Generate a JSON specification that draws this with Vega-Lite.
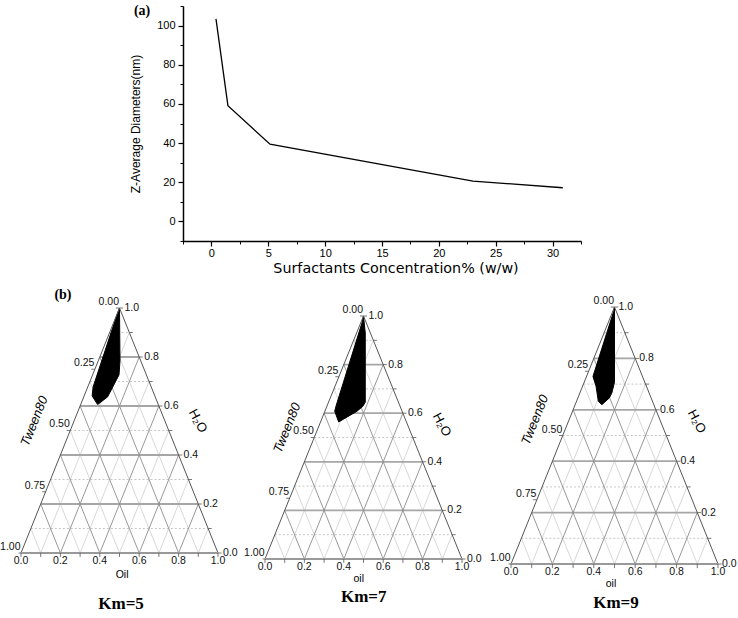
{
"$schema": "https://vega.github.io/schema/vega-lite/v6.json",
"padding": {"left": 0, "top": 3, "right": 0, "bottom": 0},
"background": "white",
"config": {"view": {"stroke": null}},
"spacing": 7,
"datasets": {
"size": [{"c":0.4,"d":103.4},{"c":1.45,"d":59.1},{"c":5.15,"d":39.4},{"c":23.0,"d":20.6},{"c":30.9,"d":17.2}],
"grid": [
{"x":0.05,"y":0.1,"x2":0.95,"y2":0.1,"f":"H","m":0},
{"x":0.1,"y":0.2,"x2":0.9,"y2":0.2,"f":"H","m":1},
{"x":0.15,"y":0.3,"x2":0.85,"y2":0.3,"f":"H","m":0},
{"x":0.2,"y":0.4,"x2":0.8,"y2":0.4,"f":"H","m":1},
{"x":0.25,"y":0.5,"x2":0.75,"y2":0.5,"f":"H","m":0},
{"x":0.3,"y":0.6,"x2":0.7,"y2":0.6,"f":"H","m":1},
{"x":0.35,"y":0.7,"x2":0.65,"y2":0.7,"f":"H","m":0},
{"x":0.4,"y":0.8,"x2":0.6,"y2":0.8,"f":"H","m":1},
{"x":0.45,"y":0.9,"x2":0.55,"y2":0.9,"f":"H","m":0},
{"x":0.1,"y":0,"x2":0.55,"y2":0.9,"f":"B","m":0},
{"x":0.2,"y":0,"x2":0.6,"y2":0.8,"f":"B","m":1},
{"x":0.3,"y":0,"x2":0.65,"y2":0.7,"f":"B","m":0},
{"x":0.4,"y":0,"x2":0.7,"y2":0.6,"f":"B","m":1},
{"x":0.5,"y":0,"x2":0.75,"y2":0.5,"f":"B","m":0},
{"x":0.6,"y":0,"x2":0.8,"y2":0.4,"f":"B","m":1},
{"x":0.7,"y":0,"x2":0.85,"y2":0.3,"f":"B","m":0},
{"x":0.8,"y":0,"x2":0.9,"y2":0.2,"f":"B","m":1},
{"x":0.9,"y":0,"x2":0.95,"y2":0.1,"f":"B","m":0},
{"x":0.1,"y":0,"x2":0.05,"y2":0.1,"f":"C","m":0},
{"x":0.2,"y":0,"x2":0.1,"y2":0.2,"f":"C","m":1},
{"x":0.3,"y":0,"x2":0.15,"y2":0.3,"f":"C","m":0},
{"x":0.4,"y":0,"x2":0.2,"y2":0.4,"f":"C","m":1},
{"x":0.5,"y":0,"x2":0.25,"y2":0.5,"f":"C","m":0},
{"x":0.6,"y":0,"x2":0.3,"y2":0.6,"f":"C","m":1},
{"x":0.7,"y":0,"x2":0.35,"y2":0.7,"f":"C","m":0},
{"x":0.8,"y":0,"x2":0.4,"y2":0.8,"f":"C","m":1},
{"x":0.9,"y":0,"x2":0.45,"y2":0.9,"f":"C","m":0}
],
"edge": [
{"x":0,"y":0,"x2":0.5,"y2":1,"k":"s"},
{"x":1,"y":0,"x2":0.5,"y2":1,"k":"s"},
{"x":0,"y":0,"x2":1,"y2":0,"k":"b"}
],
"ticks": [
{"x":0,"y":0,"x2":0,"y2":-0.016},{"x":0.1,"y":0,"x2":0.1,"y2":-0.016},{"x":0.2,"y":0,"x2":0.2,"y2":-0.016},{"x":0.3,"y":0,"x2":0.3,"y2":-0.016},{"x":0.4,"y":0,"x2":0.4,"y2":-0.016},{"x":0.5,"y":0,"x2":0.5,"y2":-0.016},{"x":0.6,"y":0,"x2":0.6,"y2":-0.016},{"x":0.7,"y":0,"x2":0.7,"y2":-0.016},{"x":0.8,"y":0,"x2":0.8,"y2":-0.016},{"x":0.9,"y":0,"x2":0.9,"y2":-0.016},{"x":1,"y":0,"x2":1,"y2":-0.016},
{"x":1,"y":0,"x2":1.018,"y2":0},{"x":0.95,"y":0.1,"x2":0.968,"y2":0.1},{"x":0.9,"y":0.2,"x2":0.918,"y2":0.2},{"x":0.85,"y":0.3,"x2":0.868,"y2":0.3},{"x":0.8,"y":0.4,"x2":0.818,"y2":0.4},{"x":0.75,"y":0.5,"x2":0.768,"y2":0.5},{"x":0.7,"y":0.6,"x2":0.718,"y2":0.6},{"x":0.65,"y":0.7,"x2":0.668,"y2":0.7},{"x":0.6,"y":0.8,"x2":0.618,"y2":0.8},{"x":0.55,"y":0.9,"x2":0.568,"y2":0.9},{"x":0.5,"y":1,"x2":0.518,"y2":1},
{"x":0.5,"y":1,"x2":0.482,"y2":1},{"x":0.375,"y":0.75,"x2":0.357,"y2":0.75},{"x":0.25,"y":0.5,"x2":0.232,"y2":0.5},{"x":0.125,"y":0.25,"x2":0.107,"y2":0.25},{"x":0,"y":0,"x2":-0.012,"y2":0}
],
"bl": [{"x":0,"y":0,"t":"0.0"},{"x":0.2,"y":0,"t":"0.2"},{"x":0.4,"y":0,"t":"0.4"},{"x":0.6,"y":0,"t":"0.6"},{"x":0.8,"y":0,"t":"0.8"},{"x":1,"y":0,"t":"1.0"}],
"rl": [{"x":1,"y":0,"t":"0.0"},{"x":0.9,"y":0.2,"t":"0.2"},{"x":0.8,"y":0.4,"t":"0.4"},{"x":0.7,"y":0.6,"t":"0.6"},{"x":0.6,"y":0.8,"t":"0.8"},{"x":0.5,"y":1,"t":"1.0"}],
"ll": [{"x":0.5,"y":1,"t":"0.00"},{"x":0.375,"y":0.75,"t":"0.25"},{"x":0.25,"y":0.5,"t":"0.50"},{"x":0.125,"y":0.25,"t":"0.75"},{"x":0,"y":0,"t":"1.00"}],
"p5": [{"i":1,"x":0.5,"y":1},{"i":2,"x":0.5025,"y":0.784},{"i":3,"x":0.4975,"y":0.727},{"i":4,"x":0.4394,"y":0.637},{"i":5,"x":0.3889,"y":0.606},{"i":6,"x":0.3611,"y":0.641},{"i":7,"x":0.3662,"y":0.678},{"i":8,"x":0.4848,"y":0.967}],
"p7": [{"i":1,"x":0.5,"y":1},{"i":2,"x":0.509,"y":0.93},{"i":3,"x":0.509,"y":0.645},{"i":4,"x":0.496,"y":0.628},{"i":5,"x":0.467,"y":0.608},{"i":6,"x":0.374,"y":0.564},{"i":7,"x":0.354,"y":0.608},{"i":8,"x":0.36,"y":0.628},{"i":9,"x":0.492,"y":0.971}],
"p9": [{"i":1,"x":0.5,"y":1},{"i":2,"x":0.5,"y":0.707},{"i":3,"x":0.487,"y":0.665},{"i":4,"x":0.475,"y":0.646},{"i":5,"x":0.439,"y":0.62},{"i":6,"x":0.422,"y":0.633},{"i":7,"x":0.411,"y":0.691},{"i":8,"x":0.396,"y":0.73},{"i":9,"x":0.496,"y":0.983}]
},
"vconcat": [
{
"spacing": 0,
"hconcat": [
{"width": 128, "height": 10, "data": {"values": []}, "mark": "point", "encoding": {}},
{
"width": 398, "height": 235,
"layer": [
{"data": {"name": "size"}, "mark": {"type": "line", "color": "black", "strokeWidth": 1.3},
 "encoding": {
  "x": {"field": "c", "type": "quantitative", "scale": {"domain": [-2.5, 32.5], "nice": false, "zero": false},
   "axis": {"orient": "bottom", "values": [0,5,10,15,20,25,30], "format": "d", "title": "Surfactants Concentration% (w/w)", "grid": false, "domainColor": "black", "domainWidth": 1.5, "tickColor": "black", "tickWidth": 1.2, "tickSize": 5, "labelFont": "Liberation Sans", "labelFontSize": 11, "labelColor": "black", "labelPadding": 1, "titleFont": "DejaVu Sans", "titleFontSize": 14.3, "titleFontWeight": "normal", "titleColor": "black", "titlePadding": 3, "titleX": 212.5}},
  "y": {"field": "d", "type": "quantitative", "scale": {"domain": [-10, 110], "nice": false, "zero": false},
   "axis": {"orient": "left", "values": [0,20,40,60,80,100], "format": "d", "title": "Z-Average Diameters(nm)", "grid": false, "domainColor": "black", "domainWidth": 1.5, "tickColor": "black", "tickWidth": 1.2, "tickSize": 5, "labelFont": "Liberation Sans", "labelFontSize": 11, "labelColor": "black", "labelPadding": 3, "titleFont": "Liberation Sans", "titleFontSize": 12, "titleFontWeight": "normal", "titleColor": "black", "titlePadding": 14}}
 }},
{"data": {"name": "size"}, "mark": {"type": "line", "opacity": 0},
 "encoding": {
  "x": {"field": "c", "type": "quantitative", "axis": {"orient": "bottom", "values": [-2.5,2.5,7.5,12.5,17.5,22.5,27.5,32.5], "labels": false, "title": null, "domain": false, "grid": false, "tickColor": "black", "tickSize": 3, "tickWidth": 1}},
  "y": {"field": "d", "type": "quantitative", "axis": {"orient": "left", "values": [-10,10,30,50,70,90,110], "labels": false, "title": null, "domain": false, "grid": false, "tickColor": "black", "tickSize": 3, "tickWidth": 1}}
 }},
{"data": {"values": [{"c": -6.1, "d": 107.6, "t": "(a)"}]}, "mark": {"type": "text", "font": "Liberation Serif", "fontWeight": "bold", "fontSize": 14, "color": "black", "clip": false},
 "encoding": {"x": {"field": "c", "type": "quantitative", "axis": null}, "y": {"field": "d", "type": "quantitative", "axis": null}, "text": {"field": "t"}}}
],
"resolve": {"axis": {"x": "independent", "y": "independent"}}
}
]
},
{
"spacing": 0,
"hconcat": [
{
"width": 243, "height": 333,
"encoding": {
 "x": {"field": "x", "type": "quantitative", "scale": {"domain": [-0.1015, 1.132], "nice": false, "zero": false}, "axis": null},
 "y": {"field": "y", "type": "quantitative", "scale": {"domain": [-0.2571, 1.102], "nice": false, "zero": false}, "axis": null}
},
"layer": [
{"data": {"name": "grid"}, "transform": [{"filter": "datum.f=='H' && datum.m==0"}], "mark": {"type": "rule", "color": "#c6c6c6", "strokeWidth": 1, "strokeDash": [2,2]}, "encoding": {"x2": {"field": "x2"}, "y2": {"field": "y2"}}},
{"data": {"name": "grid"}, "transform": [{"filter": "datum.f!='H' && datum.m==0"}], "mark": {"type": "rule", "color": "#cdcdcd", "strokeWidth": 0.8}, "encoding": {"x2": {"field": "x2"}, "y2": {"field": "y2"}}},
{"data": {"name": "grid"}, "transform": [{"filter": "datum.f=='H' && datum.m==1"}], "mark": {"type": "rule", "color": "#a6a6a6", "strokeWidth": 1.8}, "encoding": {"x2": {"field": "x2"}, "y2": {"field": "y2"}}},
{"data": {"name": "grid"}, "transform": [{"filter": "datum.f!='H' && datum.m==1"}], "mark": {"type": "rule", "color": "#8c8c8c", "strokeWidth": 0.9}, "encoding": {"x2": {"field": "x2"}, "y2": {"field": "y2"}}},
{"data": {"name": "p5"}, "mark": {"type": "line", "interpolate": "linear-closed", "fill": "black", "stroke": "black", "strokeWidth": 1}, "encoding": {"order": {"field": "i", "type": "quantitative"}}},
{"data": {"name": "edge"}, "transform": [{"filter": "datum.k=='s'"}], "mark": {"type": "rule", "color": "#555555", "strokeWidth": 1}, "encoding": {"x2": {"field": "x2"}, "y2": {"field": "y2"}}},
{"data": {"name": "edge"}, "transform": [{"filter": "datum.k=='b'"}], "mark": {"type": "rule", "color": "#999999", "strokeWidth": 2.2}, "encoding": {"x2": {"field": "x2"}, "y2": {"field": "y2"}}},
{"data": {"name": "ticks"}, "mark": {"type": "rule", "color": "#555555", "strokeWidth": 0.8}, "encoding": {"x2": {"field": "x2"}, "y2": {"field": "y2"}}},
{"data": {"name": "bl"}, "mark": {"type": "text", "font": "Liberation Sans", "fontSize": 10.5, "align": "center", "baseline": "top", "dy": 3, "color": "#111111"}, "encoding": {"text": {"field": "t"}}},
{"data": {"name": "rl"}, "mark": {"type": "text", "font": "Liberation Sans", "fontSize": 10.5, "align": "left", "baseline": "middle", "dx": 5, "color": "#111111"}, "encoding": {"text": {"field": "t"}}},
{"data": {"name": "ll"}, "mark": {"type": "text", "font": "Liberation Sans", "fontSize": 10.5, "align": "right", "baseline": "bottom", "dx": -0.5, "dy": -1, "color": "#111111"}, "encoding": {"text": {"field": "t"}}},
{"data": {"values": [{"x": 0.068, "y": 0.538, "t": "Tween80"}]}, "mark": {"type": "text", "font": "Liberation Sans", "fontStyle": "italic", "fontSize": 13, "angle": -68, "align": "center", "baseline": "middle", "color": "black"}, "encoding": {"text": {"field": "t"}}},
{"data": {"values": [{"x": 0.898, "y": 0.539, "t": "H₂O"}]}, "mark": {"type": "text", "font": "Liberation Sans", "fontSize": 13, "angle": 62, "align": "center", "baseline": "middle", "color": "black"}, "encoding": {"text": {"field": "t"}}},
{"data": {"values": [{"x": 0.513, "y": -0.088, "t": "Oil"}]}, "mark": {"type": "text", "font": "Liberation Sans", "fontSize": 10.5, "align": "center", "baseline": "middle", "color": "black"}, "encoding": {"text": {"field": "t"}}},
{"data": {"values": [{"x": 0.508, "y": -0.208, "t": "Km=5"}]}, "mark": {"type": "text", "font": "Liberation Serif", "fontWeight": "bold", "fontSize": 17, "align": "center", "baseline": "middle", "color": "black"}, "encoding": {"text": {"field": "t"}}},
{"data": {"values": [{"x": 0.213, "y": 1.053, "t": "(b)"}]}, "mark": {"type": "text", "font": "Liberation Serif", "fontWeight": "bold", "fontSize": 14, "align": "center", "baseline": "middle", "color": "black"}, "encoding": {"text": {"field": "t"}}}
]
},
{
"width": 243, "height": 333,
"encoding": {
 "x": {"field": "x", "type": "quantitative", "scale": {"domain": [-0.1015, 1.132], "nice": false, "zero": false}, "axis": null},
 "y": {"field": "y", "type": "quantitative", "scale": {"domain": [-0.2346, 1.1358], "nice": false, "zero": false}, "axis": null}
},
"layer": [
{"data": {"name": "grid"}, "transform": [{"filter": "datum.f=='H' && datum.m==0"}], "mark": {"type": "rule", "color": "#c6c6c6", "strokeWidth": 1, "strokeDash": [2,2]}, "encoding": {"x2": {"field": "x2"}, "y2": {"field": "y2"}}},
{"data": {"name": "grid"}, "transform": [{"filter": "datum.f!='H' && datum.m==0"}], "mark": {"type": "rule", "color": "#cdcdcd", "strokeWidth": 0.8}, "encoding": {"x2": {"field": "x2"}, "y2": {"field": "y2"}}},
{"data": {"name": "grid"}, "transform": [{"filter": "datum.f=='H' && datum.m==1"}], "mark": {"type": "rule", "color": "#a6a6a6", "strokeWidth": 1.8}, "encoding": {"x2": {"field": "x2"}, "y2": {"field": "y2"}}},
{"data": {"name": "grid"}, "transform": [{"filter": "datum.f!='H' && datum.m==1"}], "mark": {"type": "rule", "color": "#8c8c8c", "strokeWidth": 0.9}, "encoding": {"x2": {"field": "x2"}, "y2": {"field": "y2"}}},
{"data": {"name": "p7"}, "mark": {"type": "line", "interpolate": "linear-closed", "fill": "black", "stroke": "black", "strokeWidth": 1}, "encoding": {"order": {"field": "i", "type": "quantitative"}}},
{"data": {"name": "edge"}, "transform": [{"filter": "datum.k=='s'"}], "mark": {"type": "rule", "color": "#555555", "strokeWidth": 1}, "encoding": {"x2": {"field": "x2"}, "y2": {"field": "y2"}}},
{"data": {"name": "edge"}, "transform": [{"filter": "datum.k=='b'"}], "mark": {"type": "rule", "color": "#999999", "strokeWidth": 2.2}, "encoding": {"x2": {"field": "x2"}, "y2": {"field": "y2"}}},
{"data": {"name": "ticks"}, "mark": {"type": "rule", "color": "#555555", "strokeWidth": 0.8}, "encoding": {"x2": {"field": "x2"}, "y2": {"field": "y2"}}},
{"data": {"name": "bl"}, "mark": {"type": "text", "font": "Liberation Sans", "fontSize": 10.5, "align": "center", "baseline": "top", "dy": 3, "color": "#111111"}, "encoding": {"text": {"field": "t"}}},
{"data": {"name": "rl"}, "mark": {"type": "text", "font": "Liberation Sans", "fontSize": 10.5, "align": "left", "baseline": "middle", "dx": 5, "color": "#111111"}, "encoding": {"text": {"field": "t"}}},
{"data": {"name": "ll"}, "mark": {"type": "text", "font": "Liberation Sans", "fontSize": 10.5, "align": "right", "baseline": "bottom", "dx": -0.5, "dy": -1, "color": "#111111"}, "encoding": {"text": {"field": "t"}}},
{"data": {"values": [{"x": 0.112, "y": 0.539, "t": "Tween80"}]}, "mark": {"type": "text", "font": "Liberation Sans", "fontStyle": "italic", "fontSize": 13, "angle": -68, "align": "center", "baseline": "middle", "color": "black"}, "encoding": {"text": {"field": "t"}}},
{"data": {"values": [{"x": 0.898, "y": 0.553, "t": "H₂O"}]}, "mark": {"type": "text", "font": "Liberation Sans", "fontSize": 13, "angle": 62, "align": "center", "baseline": "middle", "color": "black"}, "encoding": {"text": {"field": "t"}}},
{"data": {"values": [{"x": 0.476, "y": -0.084, "t": "oil"}]}, "mark": {"type": "text", "font": "Liberation Sans", "fontSize": 10.5, "align": "center", "baseline": "middle", "color": "black"}, "encoding": {"text": {"field": "t"}}},
{"data": {"values": [{"x": 0.501, "y": -0.158, "t": "Km=7"}]}, "mark": {"type": "text", "font": "Liberation Serif", "fontWeight": "bold", "fontSize": 17, "align": "center", "baseline": "middle", "color": "black"}, "encoding": {"text": {"field": "t"}}}
]
},
{
"width": 252, "height": 333,
"encoding": {
 "x": {"field": "x", "type": "quantitative", "scale": {"domain": [-0.1111, 1.1063], "nice": false, "zero": false}, "axis": null},
 "y": {"field": "y", "type": "quantitative", "scale": {"domain": [-0.2023, 1.0934], "nice": false, "zero": false}, "axis": null}
},
"layer": [
{"data": {"name": "grid"}, "transform": [{"filter": "datum.f=='H' && datum.m==0"}], "mark": {"type": "rule", "color": "#c6c6c6", "strokeWidth": 1, "strokeDash": [2,2]}, "encoding": {"x2": {"field": "x2"}, "y2": {"field": "y2"}}},
{"data": {"name": "grid"}, "transform": [{"filter": "datum.f!='H' && datum.m==0"}], "mark": {"type": "rule", "color": "#cdcdcd", "strokeWidth": 0.8}, "encoding": {"x2": {"field": "x2"}, "y2": {"field": "y2"}}},
{"data": {"name": "grid"}, "transform": [{"filter": "datum.f=='H' && datum.m==1"}], "mark": {"type": "rule", "color": "#a6a6a6", "strokeWidth": 1.8}, "encoding": {"x2": {"field": "x2"}, "y2": {"field": "y2"}}},
{"data": {"name": "grid"}, "transform": [{"filter": "datum.f!='H' && datum.m==1"}], "mark": {"type": "rule", "color": "#8c8c8c", "strokeWidth": 0.9}, "encoding": {"x2": {"field": "x2"}, "y2": {"field": "y2"}}},
{"data": {"name": "p9"}, "mark": {"type": "line", "interpolate": "linear-closed", "fill": "black", "stroke": "black", "strokeWidth": 1}, "encoding": {"order": {"field": "i", "type": "quantitative"}}},
{"data": {"name": "edge"}, "transform": [{"filter": "datum.k=='s'"}], "mark": {"type": "rule", "color": "#555555", "strokeWidth": 1}, "encoding": {"x2": {"field": "x2"}, "y2": {"field": "y2"}}},
{"data": {"name": "edge"}, "transform": [{"filter": "datum.k=='b'"}], "mark": {"type": "rule", "color": "#999999", "strokeWidth": 2.2}, "encoding": {"x2": {"field": "x2"}, "y2": {"field": "y2"}}},
{"data": {"name": "ticks"}, "mark": {"type": "rule", "color": "#555555", "strokeWidth": 0.8}, "encoding": {"x2": {"field": "x2"}, "y2": {"field": "y2"}}},
{"data": {"name": "bl"}, "mark": {"type": "text", "font": "Liberation Sans", "fontSize": 10.5, "align": "center", "baseline": "top", "dy": 3, "color": "#111111"}, "encoding": {"text": {"field": "t"}}},
{"data": {"name": "rl"}, "mark": {"type": "text", "font": "Liberation Sans", "fontSize": 10.5, "align": "left", "baseline": "middle", "dx": 4, "color": "#111111"}, "encoding": {"text": {"field": "t"}}},
{"data": {"name": "ll"}, "mark": {"type": "text", "font": "Liberation Sans", "fontSize": 10.5, "align": "right", "baseline": "bottom", "dx": -0.5, "dy": -1, "color": "#111111"}, "encoding": {"text": {"field": "t"}}},
{"data": {"values": [{"x": 0.116, "y": 0.561, "t": "Tween80"}]}, "mark": {"type": "text", "font": "Liberation Sans", "fontStyle": "italic", "fontSize": 13, "angle": -68, "align": "center", "baseline": "middle", "color": "black"}, "encoding": {"text": {"field": "t"}}},
{"data": {"values": [{"x": 0.898, "y": 0.555, "t": "H₂O"}]}, "mark": {"type": "text", "font": "Liberation Sans", "fontSize": 13, "angle": 62, "align": "center", "baseline": "middle", "color": "black"}, "encoding": {"text": {"field": "t"}}},
{"data": {"values": [{"x": 0.483, "y": -0.076, "t": "oil"}]}, "mark": {"type": "text", "font": "Liberation Sans", "fontSize": 10.5, "align": "center", "baseline": "middle", "color": "black"}, "encoding": {"text": {"field": "t"}}},
{"data": {"values": [{"x": 0.507, "y": -0.152, "t": "Km=9"}]}, "mark": {"type": "text", "font": "Liberation Serif", "fontWeight": "bold", "fontSize": 17, "align": "center", "baseline": "middle", "color": "black"}, "encoding": {"text": {"field": "t"}}}
]
}
]
}
]
}
